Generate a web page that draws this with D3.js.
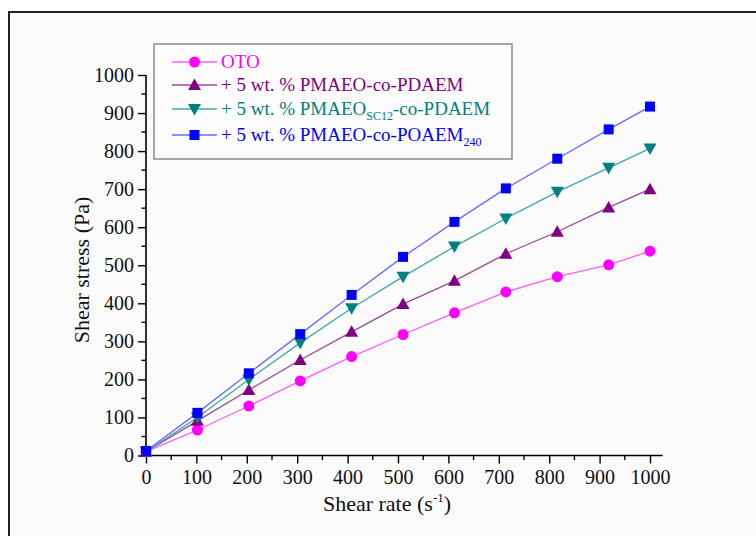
<!DOCTYPE html>
<html><head><meta charset="utf-8">
<script src="https://cdn.jsdelivr.net/npm/d3@7"></script>
<style>body{margin:0;background:#fff}svg{display:block}text{font-family:"Liberation Serif","Times New Roman",serif}</style>
</head><body>
<svg id="c" width="756" height="536"></svg>
<script>
const shearRate = [0,102,204,306,408,510,612,714,816,918,1000];
const oto   = [10,67,130,196,260,318,375,430,470,501,537];
const pdaem = [10,91,172,251,325,398,459,530,588,652,700];
const sc12  = [10,100,200,296,387,470,549,623,693,756,807];
const poaem = [12,112,216,319,422,522,614,702,780,857,917];
const xTicks = [0,100,200,300,400,500,600,700,800,900,1000];
const yTicks = [0,100,200,300,400,500,600,700,800,900,1000];

const series = [
  {name:"OTO", vals:oto, color:"#ff00ff", line:"#ff5cff", sym:"circle"},
  {name:"pdaem", vals:pdaem, color:"#800080", line:"#9a4a9a", sym:"up"},
  {name:"sc12", vals:sc12, color:"#008080", line:"#40a8a8", sym:"down"},
  {name:"poaem", vals:poaem, color:"#0000ff", line:"#6a6aff", sym:"square"}
];

const svg = d3.select("#c");
svg.append("rect").attr("x",9).attr("y",12).attr("width",760).attr("height",540)
  .attr("fill","#fbfbfb").attr("stroke","#222").attr("stroke-width",2);

const x = d3.scaleLinear().domain([0,1025]).range([146,662.6]);
const y = d3.scaleLinear().domain([0,1000]).range([455.5,75]);

function drawSym(g, sym, cx, cy, color){
  if(sym==="circle") g.append("circle").attr("cx",cx).attr("cy",cy).attr("r",5.5).attr("fill",color);
  else if(sym==="square") g.append("rect").attr("x",cx-5).attr("y",cy-5).attr("width",10).attr("height",10).attr("fill",color);
  else if(sym==="up") g.append("path").attr("d",`M${cx},${cy-6.5}L${cx+6.5},${cy+5}L${cx-6.5},${cy+5}Z`).attr("fill",color);
  else g.append("path").attr("d",`M${cx},${cy+6.5}L${cx+6.5},${cy-5}L${cx-6.5},${cy-5}Z`).attr("fill",color);
}

// axes
const xAxis = d3.axisBottom(x).tickValues(xTicks).tickSize(8).tickPadding(6).tickFormat(d3.format("d"));
const gx = svg.append("g").attr("transform","translate(0,455.5)").call(xAxis);
gx.select(".domain").attr("d","M146,0H662.6").attr("stroke","#000").attr("stroke-width",1.6);
gx.selectAll(".tick line").attr("stroke","#000").attr("stroke-width",1.4);
gx.selectAll("text").attr("font-size",20).attr("fill","#111");
gx.selectAll(".minor").data(d3.range(50,1025,100)).enter().append("line")
  .attr("x1",d=>x(d)).attr("x2",d=>x(d)).attr("y1",0).attr("y2",4.5).attr("stroke","#000").attr("stroke-width",1.4);

const yAxis = d3.axisLeft(y).tickValues(yTicks).tickSize(8).tickPadding(4).tickFormat(d3.format("d"));
const gy = svg.append("g").attr("transform","translate(146,0)").call(yAxis);
gy.select(".domain").attr("d","M0,455.5V75").attr("stroke","#000").attr("stroke-width",1.6);
gy.selectAll(".tick line").attr("stroke","#000").attr("stroke-width",1.4);
gy.selectAll("text").attr("font-size",20).attr("fill","#111");
gy.selectAll(".minor").data(d3.range(50,1000,100)).enter().append("line")
  .attr("y1",d=>y(d)).attr("y2",d=>y(d)).attr("x1",0).attr("x2",-4.5).attr("stroke","#000").attr("stroke-width",1.4);

// axis titles
const xt = svg.append("text").attr("x",387).attr("y",511).attr("text-anchor","middle").attr("font-size",22).attr("fill","#111");
xt.append("tspan").text("Shear rate (s");
xt.append("tspan").attr("font-size",13).attr("dy",-9).text("-1");
xt.append("tspan").attr("dy",9).text(")");
svg.append("text").attr("transform","translate(89,270) rotate(-90)").attr("text-anchor","middle")
  .attr("font-size",22).attr("fill","#111").text("Shear stress (Pa)");

// series
const line = d3.line().x((d,i)=>x(shearRate[i])).y(d=>y(d));
series.forEach(s=>{
  svg.append("path").attr("d",line(s.vals)).attr("fill","none").attr("stroke",s.line).attr("stroke-width",1.3);
});
series.forEach(s=>{
  const g = svg.append("g");
  s.vals.forEach((v,i)=>drawSym(g,s.sym,x(shearRate[i]),y(v),s.color));
});

// legend
svg.append("rect").attr("x",154).attr("y",44).attr("width",358).attr("height",115)
  .attr("fill","#fdfdfd").attr("stroke","#8a8a8a").attr("stroke-width",1.5);
const rows = [62,85,109,135];
series.forEach((s,i)=>{
  const g = svg.append("g");
  g.append("line").attr("x1",172).attr("x2",217).attr("y1",rows[i]).attr("y2",rows[i]).attr("stroke",s.line).attr("stroke-width",1.3);
  drawSym(g,s.sym,194.5,rows[i],s.color);
  const t = g.append("text").attr("x",221).attr("y",rows[i]+6).attr("font-size",19).attr("fill",s.color);
  if(i===0) t.text("OTO");
  else if(i===1) t.text("+ 5 wt. % PMAEO-co-PDAEM");
  else if(i===2){
    t.append("tspan").text("+ 5 wt. % PMAEO");
    t.append("tspan").attr("font-size",12).attr("dy",5).text("SC12");
    t.append("tspan").attr("dy",-5).text("-co-PDAEM");
  } else {
    t.append("tspan").text("+ 5 wt. % PMAEO-co-POAEM");
    t.append("tspan").attr("font-size",12).attr("dy",5).text("240");
  }
});
</script>
</body></html>
